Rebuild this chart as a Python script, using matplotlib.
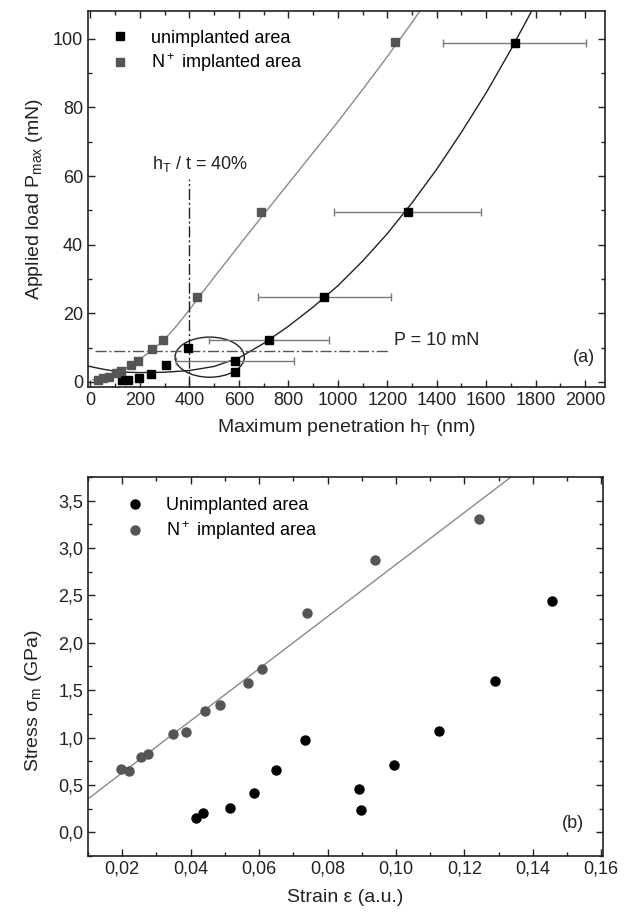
import numpy as np
import matplotlib
matplotlib.use("Agg")
import matplotlib.pyplot as plt
from matplotlib.patches import Ellipse
from matplotlib.ticker import MultipleLocator, FuncFormatter

plt.rcParams['font.family'] = ['Liberation Sans', 'DejaVu Sans']
plt.rcParams['mathtext.fontset'] = 'custom'
plt.rcParams['mathtext.rm'] = 'Liberation Sans'
plt.rcParams['mathtext.it'] = 'Liberation Sans'

# ---- panel (a): load vs penetration ----
unimp_h = [128, 150, 195, 246, 305, 395, 583, 583, 723, 945, 1283, 1715]
unimp_P = [0.4, 0.4, 1.2, 2.3, 4.8, 9.8, 6.1, 2.9, 12.3, 24.7, 49.4, 98.8]
unimp_herr = [0, 0, 0, 0, 0, 0, 238, 0, 243, 268, 297, 290]

imp_h = [32, 52, 73, 105, 125, 163, 192, 250, 292, 429, 689, 1230]
imp_P = [0.5, 1.0, 1.5, 2.5, 3.2, 4.8, 6.1, 9.6, 12.3, 24.7, 49.4, 99.0]

# fit curves
fit_unimp_h = [-10, 50, 100, 150, 200, 300, 400, 500, 600, 700, 800, 900, 1000,
               1100, 1200, 1300, 1400, 1500, 1600, 1700, 1800]
fit_unimp_P = [4.6, 3.7, 3.1, 2.8, 2.7, 2.8, 3.3, 4.5, 7.0, 11.2, 16.2, 21.8, 28.0,
               35.2, 43.2, 52.2, 62.0, 72.8, 84.3, 96.9, 110.3]
fit_imp_h = [10, 50, 100, 150, 200, 250, 300, 350, 400, 450, 500, 600, 700, 800,
             900, 1000, 1100, 1200, 1300, 1340]
fit_imp_P = [0.6, 1.4, 2.6, 4.3, 6.6, 9.3, 12.4, 16.5, 21.0, 25.8, 30.5, 39.7, 48.8,
             57.8, 66.8, 75.8, 85.2, 94.8, 104.8, 109.0]

# ---- panel (b): stress vs strain ----
unimp_strain = [0.0415, 0.0437, 0.0514, 0.0586, 0.0648, 0.0734, 0.0893, 0.0898,
                0.0993, 0.1125, 0.1288, 0.1455]
unimp_stress = [0.15, 0.20, 0.26, 0.41, 0.655, 0.975, 0.46, 0.235, 0.715, 1.07,
                1.60, 2.44]
imp_strain = [0.0197, 0.0221, 0.0254, 0.0275, 0.0349, 0.0386, 0.0443, 0.0486,
              0.0567, 0.0608, 0.0741, 0.0940, 0.1244]
imp_stress = [0.665, 0.648, 0.79, 0.824, 1.04, 1.056, 1.283, 1.343, 1.58, 1.724,
              2.31, 2.875, 3.305]
fit_strain = [0.01, 0.134]
fit_stress = [0.353, 3.76]


def style_axes(ax):
    ax.tick_params(which='both', direction='in', top=True, right=True,
                   labelsize=13, colors='#222', width=1)
    ax.tick_params(which='major', length=5)
    ax.tick_params(which='minor', length=3)
    for s in ax.spines.values():
        s.set_linewidth(1.2)
        s.set_color('#222')


def comma(fmt):
    return FuncFormatter(lambda v, p: (fmt % v).replace('.', ','))


def make_figure():
    fig = plt.figure(figsize=(6.33, 9.21), dpi=100)

    # panel (a)
    ax1 = fig.add_axes([0.139, 0.5798, 0.8167, 0.4078])
    ax1.plot(fit_imp_h, fit_imp_P, color='#8a8a8a', lw=1)
    ax1.plot(fit_unimp_h, fit_unimp_P, color='#222', lw=1)
    ax1.plot([400, 400], [-1.5, 59], color='#222', lw=1, ls=(0, (8, 2, 1.5, 2)))
    ax1.plot([20, 1212], [9, 9], color='#555', lw=1, ls=(0, (8, 2, 1.5, 2)))
    ax1.add_patch(Ellipse((482, 7.2), 280, 11.7, fill=False, ec='#222', lw=1))

    idx = [i for i, e in enumerate(unimp_herr) if e > 0]
    ax1.errorbar([unimp_h[i] for i in idx], [unimp_P[i] for i in idx],
                 xerr=[unimp_herr[i] for i in idx], fmt='none', ecolor='#7a7a7a',
                 elinewidth=1, capsize=3, capthick=1)
    ax1.plot(unimp_h, unimp_P, 's', color='black', ms=6.3, ls='none',
             label='unimplanted area')
    ax1.plot(imp_h, imp_P, 's', color='#555', ms=6.3, ls='none',
             label='N$^+$ implanted area')

    ax1.text(247, 63.5, r'h$_\mathregular{T}$ / t = 40%', fontsize=13,
             va='center', color='#222')
    ax1.text(1228, 12, 'P = 10 mN', fontsize=13, va='center', color='#222')
    ax1.text(2040, 7, '(a)', fontsize=13, va='center', ha='right', color='#222')

    ax1.set_xlim(-10, 2080)
    ax1.set_ylim(-1.5, 108)
    ax1.xaxis.set_major_locator(MultipleLocator(200))
    ax1.xaxis.set_minor_locator(MultipleLocator(100))
    ax1.yaxis.set_major_locator(MultipleLocator(20))
    ax1.yaxis.set_minor_locator(MultipleLocator(10))
    style_axes(ax1)
    ax1.set_xlabel(r'Maximum penetration h$_\mathregular{T}$ (nm)', fontsize=14,
                   color='#222', labelpad=6)
    ax1.set_ylabel(r'Applied load P$_\mathregular{max}$ (mN)', fontsize=14,
                   color='#222', labelpad=6)
    ax1.legend(loc='upper left', bbox_to_anchor=(0.02, 0.985), frameon=False,
               fontsize=13, handlelength=1.0, handletextpad=1.2,
               labelspacing=0.25, borderaxespad=0.3)

    # panel (b)
    ax2 = fig.add_axes([0.139, 0.0706, 0.8136, 0.4115])
    ax2.plot(fit_strain, fit_stress, color='#8a8a8a', lw=1)
    ax2.plot(unimp_strain, unimp_stress, 'o', color='black', ms=6.5, ls='none',
             label='Unimplanted area')
    ax2.plot(imp_strain, imp_stress, 'o', color='#555', ms=6.5, ls='none',
             label='N$^+$ implanted area')
    ax2.text(0.155, 0.09, '(b)', fontsize=13, va='center', ha='right', color='#222')

    ax2.set_xlim(0.01, 0.1605)
    ax2.set_ylim(-0.25, 3.75)
    ax2.xaxis.set_major_locator(MultipleLocator(0.02))
    ax2.xaxis.set_minor_locator(MultipleLocator(0.01))
    ax2.yaxis.set_major_locator(MultipleLocator(0.5))
    ax2.yaxis.set_minor_locator(MultipleLocator(0.25))
    ax2.xaxis.set_major_formatter(comma('%.2f'))
    ax2.yaxis.set_major_formatter(comma('%.1f'))
    style_axes(ax2)
    ax2.set_xlabel('Strain ε (a.u.)', fontsize=14, color='#222', labelpad=8)
    ax2.set_ylabel(r'Stress σ$_\mathregular{m}$ (GPa)', fontsize=14, color='#222')
    ax2.yaxis.set_label_coords(-0.085, 0.41)
    ax2.legend(loc='upper left', bbox_to_anchor=(0.05, 0.98), frameon=False,
               fontsize=13, handlelength=1.0, handletextpad=1.2,
               labelspacing=0.3, borderaxespad=0.3)

    fig.savefig('out.png', dpi=100)


if __name__ == "__main__":
    make_figure()
